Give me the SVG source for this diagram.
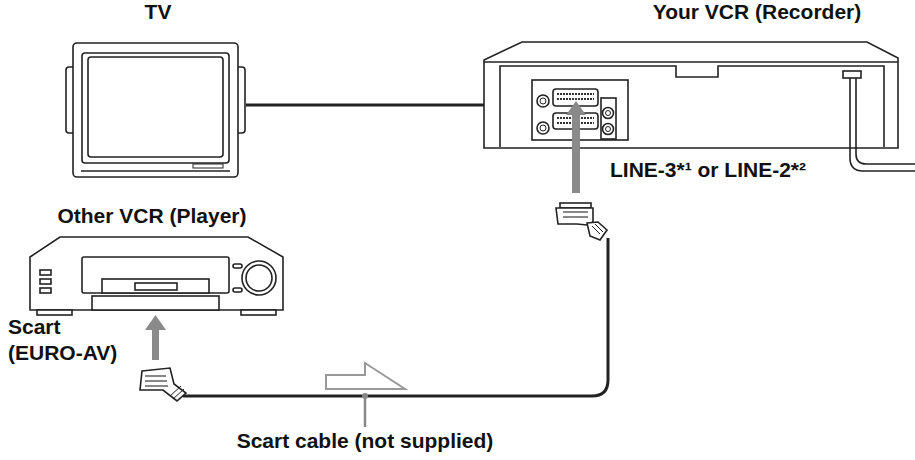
<svg xmlns="http://www.w3.org/2000/svg" width="915" height="460" viewBox="0 0 915 460">
<style>
.t{font-family:"Liberation Sans",Arial,sans-serif;font-weight:bold;font-size:21px;fill:#111}
.l{fill:#fff;stroke:#222;stroke-width:1.6}
.g{fill:#8a8a8a}
</style>
<rect width="915" height="460" fill="#fff"/>
<g id="tv">
<rect class="l" x="66" y="67" width="9" height="66" rx="3"/>
<rect class="l" x="236" y="67" width="9" height="66" rx="3"/>
<rect class="l" x="73" y="43" width="165" height="134" rx="4"/>
<rect class="l" x="82" y="53" width="147" height="110" rx="3"/>
<rect class="l" x="88" y="57" width="135" height="100" rx="3"/>
<line x1="81" y1="171" x2="230" y2="171" stroke="#222" stroke-width="1.4"/>
<rect x="193" y="164" width="30" height="4" fill="none" stroke="#222"/>
</g>
<g id="recorder">
<polygon class="l" points="522,42 867,42 898,58 898,148 484,148 484,60"/>
<line x1="484" y1="62" x2="898" y2="62" stroke="#222" stroke-width="1.6"/>
<path class="l" d="M500,147 V66 H676 V77 H718 V66 H884 V147"/>
<rect class="l" x="532" y="80" width="96" height="60"/>
<rect class="l" x="553" y="89" width="45" height="17" rx="3"/>
<rect class="l" x="553" y="113" width="45" height="16" rx="3"/>
<path d="M557,94 H594 M557,99 H594 M557,118 H594 M557,123 H594" stroke="#333" stroke-width="2" stroke-dasharray="2 1"/>
<circle class="l" cx="543" cy="101" r="6"/><circle cx="543" cy="101" r="3" fill="none" stroke="#222"/>
<circle class="l" cx="543" cy="128" r="6"/><circle cx="543" cy="128" r="3" fill="none" stroke="#222"/>
<rect class="l" x="601" y="98" width="15" height="41"/>
<circle class="l" cx="608" cy="113" r="5.5"/><circle cx="608" cy="113" r="2.5" fill="none" stroke="#222"/>
<circle class="l" cx="608" cy="129" r="5.5"/><circle cx="608" cy="129" r="2.5" fill="none" stroke="#222"/>
<rect class="l" x="843" y="71" width="18" height="7"/>
</g>
<g id="player">
<polygon class="l" points="60,237 248,237 283,257 283,310 30,310 30,257"/>
<rect class="l" x="37" y="310" width="35" height="5"/>
<rect class="l" x="241" y="310" width="35" height="5"/>
<rect class="l" x="82" y="257" width="147" height="36" rx="2"/>
<rect class="l" x="92" y="296" width="127" height="14"/>
<rect class="l" x="102" y="279" width="107" height="14"/>
<rect class="l" x="135" y="283" width="42" height="7"/>
<rect class="l" x="40" y="270" width="11" height="5"/>
<rect class="l" x="40" y="279" width="11" height="5"/>
<rect class="l" x="40" y="288" width="11" height="5"/>
<rect class="l" x="233" y="264" width="9" height="4" rx="2"/>
<rect class="l" x="233" y="288" width="9" height="4" rx="2"/>
<circle class="l" cx="259" cy="278" r="17"/>
<circle class="l" cx="259" cy="278" r="13"/>
</g>
<g id="connectors">
<line x1="246" y1="105" x2="484" y2="105" stroke="#222" stroke-width="3"/>
<path d="M183,396 H592 Q608,396 608,380 V238" fill="none" stroke="#222" stroke-width="3"/>
<path d="M850,78 V158 Q850,171 863,171 H915 M856,78 V154 Q856,164 866,164 H915" fill="none" stroke="#222" stroke-width="1.6"/>
<polygon class="g" points="152,360 159,360 159,330 166,330 155.5,315 145,330 152,330"/>
<polygon class="g" points="572,193 580,193 580,115 586,115 576,101 566,115 572,115"/>
<polygon points="326,375 365,375 365,363 405,389 326,389" fill="#fff" stroke="#999" stroke-width="2"/>
<line x1="365" y1="396" x2="365" y2="427" stroke="#888" stroke-width="2.5"/>
<circle cx="365" cy="396" r="3" fill="#888"/>
</g>
<g id="plug-left">
<path class="l" d="M142,371 L170,368 L174,384 L186,393 L177,401 L163,390 L140,390 Z"/>
<path d="M145,376 H166 M145,381 H167 M145,386 H168" stroke="#888" stroke-width="2"/>
<path d="M170,396 L181,386 M173,399 L184,389" stroke="#222"/>
</g>
<g id="plug-right">
<rect class="l" x="560" y="203" width="31" height="5"/>
<path class="l" d="M556,208 H593 L593,222 L587,225 L577,224 L558,224 Z"/>
<path class="l" d="M587,223 L598,222 L607,230 L600,240 L590,236 Z"/>
<path d="M563,212 H588 M563,217 H588" stroke="#888" stroke-width="2"/>
<path d="M592,226 L600,234 M595,224 L603,232" stroke="#222"/>
</g>
<text class="t" x="158" y="19" text-anchor="middle">TV</text>
<text class="t" x="757" y="19" text-anchor="middle">Your VCR (Recorder)</text>
<text class="t" x="610" y="177">LINE-3*¹ or LINE-2*²</text>
<text class="t" x="152" y="223" text-anchor="middle">Other VCR (Player)</text>
<text class="t" x="8" y="334">Scart</text>
<text class="t" x="8" y="360">(EURO-AV)</text>
<text class="t" x="365" y="448" text-anchor="middle">Scart cable (not supplied)</text>
</svg>
